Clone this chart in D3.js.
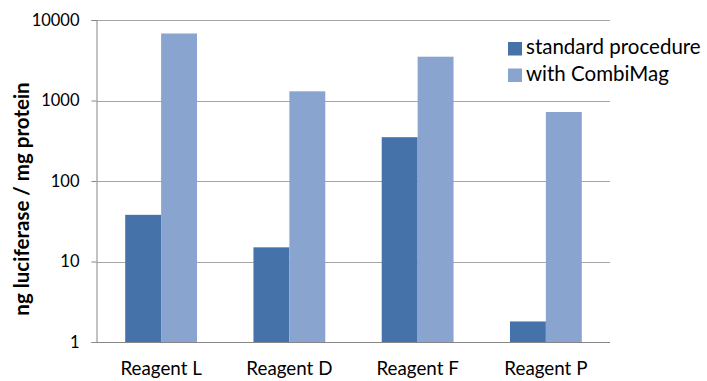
<!DOCTYPE html>
<html><head><meta charset="utf-8">
<script src="https://cdn.jsdelivr.net/npm/d3@7"></script>
<style>body{margin:0;background:#fff}svg{display:block;font-family:Lato,"Open Sans",sans-serif}</style>
</head><body>
<svg id="c" width="707" height="381"></svg>
<script>
const categories = ["Reagent L","Reagent D","Reagent F","Reagent P"];
const seriesNames = ["standard procedure","with CombiMag"];
const standardValues = [38, 15, 350, 1.8];
const combiMagValues = [6800, 1300, 3500, 720];
const yTicks = [1, 10, 100, 1000, 10000];
const yTitle = "ng luciferase / mg protein";
const colors = ["#4572A8", "#89A4CE"];

(function(){
const svg = d3.select("#c");
const pL = 97, pR = 610, pT = 20, pB = 342;
const x = d3.scaleBand().domain(categories).range([pL, pR]).paddingInner(0.44).paddingOuter(0.22);
const xs = d3.scaleBand().domain(seriesNames).range([0, x.bandwidth()]);
const y = d3.scaleLog().domain([1, 10000]).range([pB, pT]);

svg.append("g").selectAll("line").data(yTicks.slice(1)).join("line")
  .attr("x1", pL).attr("x2", pR).attr("y1", d => Math.round(y(d)) + 0.5).attr("y2", d => Math.round(y(d)) + 0.5)
  .attr("stroke", "#A6A6A6").attr("stroke-width", 1);

const series = [standardValues, combiMagValues];
series.forEach((vals, si) => {
  svg.append("g").selectAll("rect").data(categories).join("rect")
    .attr("x", c => x(c) + xs(seriesNames[si]))
    .attr("width", xs.bandwidth())
    .attr("y", (c, i) => y(vals[i]))
    .attr("height", (c, i) => y(1) - y(vals[i]))
    .attr("fill", colors[si]);
});

const yAxis = d3.axisLeft(y).tickValues(yTicks).tickFormat(d3.format("d")).tickSizeOuter(0).tickSize(5).tickPadding(12);
const ya = svg.append("g").attr("transform", `translate(${pL - 0.5},0)`).call(yAxis);
ya.select(".domain").attr("stroke", "#868686");
ya.selectAll(".tick line").attr("stroke", "#868686");
ya.selectAll("text").attr("font-size", 16.5).attr("fill", "#000").attr("font-family", "Lato");

svg.append("line").attr("x1", pL - 1).attr("x2", pR).attr("y1", pB + 0.5).attr("y2", pB + 0.5)
  .attr("stroke", "#868686");

svg.append("g").selectAll("text").data(categories).join("text")
  .attr("x", c => x(c) + x.bandwidth() / 2).attr("y", 375)
  .attr("text-anchor", "middle").attr("font-size", 18.8).text(c => c);

svg.append("text").attr("transform", "translate(29,199) rotate(-90)")
  .attr("text-anchor", "middle").attr("font-size", 20.5).attr("font-weight", "bold").text(yTitle);

const lg = svg.append("g").selectAll("g").data(seriesNames).join("g")
  .attr("transform", (d, i) => `translate(508,${42 + i * 26.5})`);
lg.append("rect").attr("width", 14).attr("height", 13.5).attr("fill", (d, i) => colors[i]);
lg.append("text").attr("x", 18).attr("y", 12).attr("font-size", 20.5).text(d => d);
})();
</script>
</body></html>
